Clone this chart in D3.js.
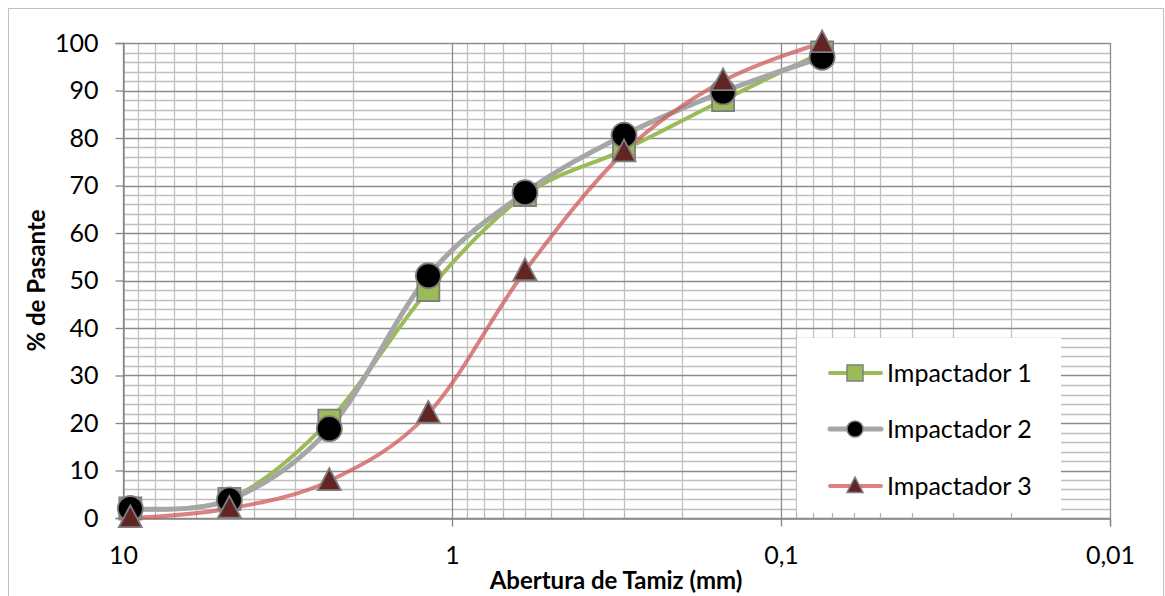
<!DOCTYPE html>
<html>
<head>
<meta charset="utf-8">
<script src="https://cdn.jsdelivr.net/npm/d3@7"></script>
<style>
  body { margin: 0; background: #fff; }
  svg { display: block; font-family: Lato, "Open Sans", sans-serif; }
</style>
</head>
<body>
<svg id="chart" width="1165" height="596"></svg>
<script>
// sieve openings (mm) and % passing for each impactor
const aberturas = [9.5, 4.75, 2.36, 1.18, 0.6, 0.3, 0.15, 0.075];
const impactador1 = [2, 4, 20.5, 48, 68, 77.5, 88, 98];
const impactador2 = [2, 3.8, 18.8, 51, 68.5, 80.6, 89.7, 97];
const impactador3 = [0, 2, 7.8, 22, 52, 77, 92, 100];
const seriesNames = ["Impactador 1", "Impactador 2", "Impactador 3"];
const xTickVals = [10, 1, 0.1, 0.01];
const xTickLabels = ["10", "1", "0,1", "0,01"];
const yTicks = [0, 10, 20, 30, 40, 50, 60, 70, 80, 90, 100];

const svg = d3.select("#chart");
const pLeft = 123, pRight = 1110, pTop = 43, pBottom = 518;

// outer border
svg.append("rect")
    .attr("x", 8.5).attr("y", 8.5)
    .attr("width", 1155).attr("height", 590)
    .attr("fill", "none").attr("stroke", "#bfbfbf");

const x = d3.scaleLog().domain([10, 0.01]).range([pLeft, pRight]);
const y = d3.scaleLinear().domain([0, 100]).range([pBottom, pTop]);

// minor x values 2..9 of each decade
let xMinor = [];
[1, 0.1, 0.01].forEach(d => {
    for (let k = 2; k <= 9; k++) xMinor.push(d * k);
});
let yMinor = d3.range(0, 101, 2).filter(v => v % 10 != 0);

const grid = svg.append("g");
grid.selectAll(".vmin").data(xMinor).enter().append("line")
    .attr("x1", d => Math.round(x(d)) + 0.5).attr("x2", d => Math.round(x(d)) + 0.5)
    .attr("y1", pTop).attr("y2", pBottom)
    .attr("stroke", "#c0c0c0").attr("stroke-width", 1.3);
grid.selectAll(".hmin").data(yMinor).enter().append("line")
    .attr("x1", pLeft).attr("x2", pRight)
    .attr("y1", d => Math.round(y(d)) + 0.5).attr("y2", d => Math.round(y(d)) + 0.5)
    .attr("stroke", "#c0c0c0").attr("stroke-width", 1.3);
grid.selectAll(".vmaj").data(xTickVals).enter().append("line")
    .attr("x1", d => Math.round(x(d)) + 0.5).attr("x2", d => Math.round(x(d)) + 0.5)
    .attr("y1", pTop).attr("y2", pBottom)
    .attr("stroke", "#8c8c8c").attr("stroke-width", 1.3);
grid.selectAll(".hmaj").data(yTicks).enter().append("line")
    .attr("x1", pLeft).attr("x2", pRight)
    .attr("y1", d => Math.round(y(d)) + 0.5).attr("y2", d => Math.round(y(d)) + 0.5)
    .attr("stroke", "#8c8c8c").attr("stroke-width", 1.3);

// legend background covers the grid
const lg = { x: 797, y: 338, w: 264, h: 175 };
svg.append("rect")
    .attr("x", lg.x).attr("y", lg.y).attr("width", lg.w).attr("height", lg.h)
    .attr("fill", "#fff");

// minor tick marks inside x axis
svg.append("g").selectAll("line").data(xMinor).enter().append("line")
    .attr("x1", d => Math.round(x(d)) + 0.5).attr("x2", d => Math.round(x(d)) + 0.5)
    .attr("y1", pBottom - 5).attr("y2", pBottom)
    .attr("stroke", "#b0b0b0");

// axes
const yAxis = svg.append("g").attr("transform", `translate(${pLeft + 0.5},0)`)
    .call(d3.axisLeft(y).tickValues(yTicks).tickSize(8).tickPadding(17).tickFormat(d3.format("d")));
const xAxis = svg.append("g").attr("transform", `translate(0,${pBottom + 0.5})`)
    .call(d3.axisBottom(x).tickValues(xTickVals).tickSize(8).tickPadding(20)
        .tickFormat((d, i) => xTickLabels[i]));
[yAxis, xAxis].forEach(a => {
    a.select(".domain").attr("stroke", "#868686").attr("stroke-width", 1.3);
    a.selectAll(".tick line").attr("stroke", "#868686").attr("stroke-width", 1.3);
    a.selectAll("text").attr("fill", "#000").style("font-size", "25px")
        .style("font-family", "Lato, sans-serif");
});

// axis titles
svg.append("text")
    .attr("transform", `translate(45,${(pTop + pBottom) / 2}) rotate(-90)`)
    .attr("text-anchor", "middle")
    .style("font-weight", "bold").style("font-size", "24px")
    .text("% de Pasante");
svg.append("text")
    .attr("x", 616).attr("y", 589)
    .attr("text-anchor", "middle")
    .style("font-weight", "bold").style("font-size", "24px")
    .text("Abertura de Tamiz (mm)");

const styles = [
    { data: impactador1, line: "#9bbb59", lw: 4, marker: "square", fill: "#9bbb59" },
    { data: impactador2, line: "#a6a6a6", lw: 5, marker: "circle", fill: "#000000" },
    { data: impactador3, line: "rgba(205,90,88,0.75)", lw: 4, marker: "triangle", fill: "#632523" }
];

const line = d3.line()
    .x(d => x(d[0]))
    .y(d => y(d[1]))
    .curve(d3.curveCatmullRom.alpha(0));

function markerPath(kind, size) {
    if (kind == "square") return d3.symbol(d3.symbolSquare, size * size)();
    if (kind == "circle") return d3.symbol(d3.symbolCircle, Math.PI * size * size / 4)();
    // triangle, base size wide
    const h = size * 0.95;
    return `M0,${-h * 0.58}L${size / 2},${h * 0.42}L${-size / 2},${h * 0.42}Z`;
}

const markerSize = { square: 22, circle: 25, triangle: 23 };

styles.forEach(s => {
    const pts = aberturas.map((a, i) => [a, s.data[i]]);
    svg.append("path")
        .attr("d", line(pts))
        .attr("fill", "none")
        .attr("stroke", s.line)
        .attr("stroke-width", s.lw)
        .attr("stroke-linecap", "round");
});
styles.forEach(s => {
    const pts = aberturas.map((a, i) => [a, s.data[i]]);
    svg.append("g").selectAll("path").data(pts).enter().append("path")
        .attr("transform", d => `translate(${x(d[0])},${y(d[1])})`)
        .attr("d", markerPath(s.marker, markerSize[s.marker]))
        .attr("fill", s.fill)
        .attr("stroke", "#7f7f7f")
        .attr("stroke-width", 1.8);
});

// legend
const legendY = [373, 429, 486];
styles.forEach((s, i) => {
    const g = svg.append("g").attr("transform", `translate(0,${legendY[i]})`);
    g.append("line")
        .attr("x1", 830).attr("x2", 881)
        .attr("stroke", s.line).attr("stroke-width", s.lw).attr("stroke-linecap", "round");
    g.append("path")
        .attr("transform", "translate(855,0)")
        .attr("d", markerPath(s.marker, 16))
        .attr("fill", s.fill).attr("stroke", "#7f7f7f").attr("stroke-width", 1.5);
    g.append("text")
        .attr("x", 887).attr("y", 9)
        .style("font-size", "25px")
        .text(seriesNames[i]);
});
</script>
</body>
</html>
